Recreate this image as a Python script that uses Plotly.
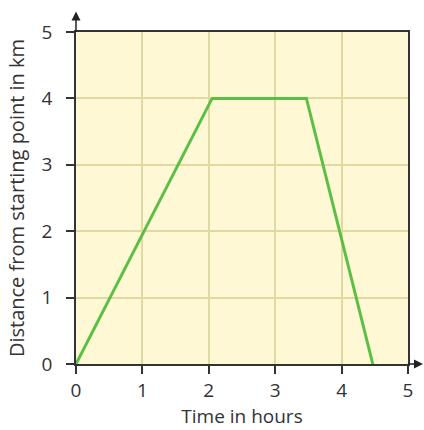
import plotly.graph_objects as go

time_hours = [0, 2.05, 3.47, 4.47]
distance_km = [0, 4, 4, 0]
x_ticks = [0, 1, 2, 3, 4, 5]
y_ticks = [0, 1, 2, 3, 4, 5]

font_family = "Open Sans"
text_color = "#333333"

fig = go.Figure()
fig.add_trace(go.Scatter(x=time_hours, y=distance_km, mode="lines",
                         line=dict(color="#5cbf45", width=3), hoverinfo="skip"))

fig.update_layout(
    width=424, height=430,
    margin=dict(l=76, r=16, t=32, b=66),
    plot_bgcolor="#fef8d4",
    paper_bgcolor="white",
    showlegend=False,
    font=dict(family=font_family, size=19, color=text_color),
)
fig.update_xaxes(
    range=[0, 5], tickvals=x_ticks, ticktext=[str(v) for v in x_ticks],
    showgrid=True, gridcolor="#e2d9a2", gridwidth=1.5,
    showline=True, linecolor="#333333", linewidth=1.5, mirror=True,
    ticks="outside", ticklen=8, tickcolor="#333333", tickwidth=1.5,
    ticklabelstandoff=0, automargin=False,
    zeroline=False,
    title=dict(text="Time in hours", standoff=6, font=dict(size=19)),
)
fig.update_yaxes(
    range=[0, 5], tickvals=y_ticks, ticktext=[str(v) for v in y_ticks],
    showgrid=True, gridcolor="#e2d9a2", gridwidth=1.5,
    showline=True, linecolor="#333333", linewidth=1.5, mirror=True,
    ticks="outside", ticklen=8, tickcolor="#333333", tickwidth=1.5,
    ticklabelstandoff=10, automargin=False,
    zeroline=False,
    title=dict(text="Distance from starting point in km", standoff=12, font=dict(size=20)),
)

# axis arrows
fig.add_annotation(xref="paper", yref="paper", x=0, y=1.062, ax=0, ay=22,
                   axref="pixel", ayref="pixel", text="", showarrow=True,
                   arrowhead=2, arrowsize=1.2, arrowwidth=1.5, arrowcolor="#222222")
fig.add_annotation(xref="paper", yref="paper", x=1.05, y=0, ax=-18, ay=0,
                   axref="pixel", ayref="pixel", text="", showarrow=True,
                   arrowhead=2, arrowsize=1.2, arrowwidth=1.5, arrowcolor="#222222")

fig.write_html("out.html", config={"displayModeBar": False},
               post_script="document.body.style.margin='0px';")
